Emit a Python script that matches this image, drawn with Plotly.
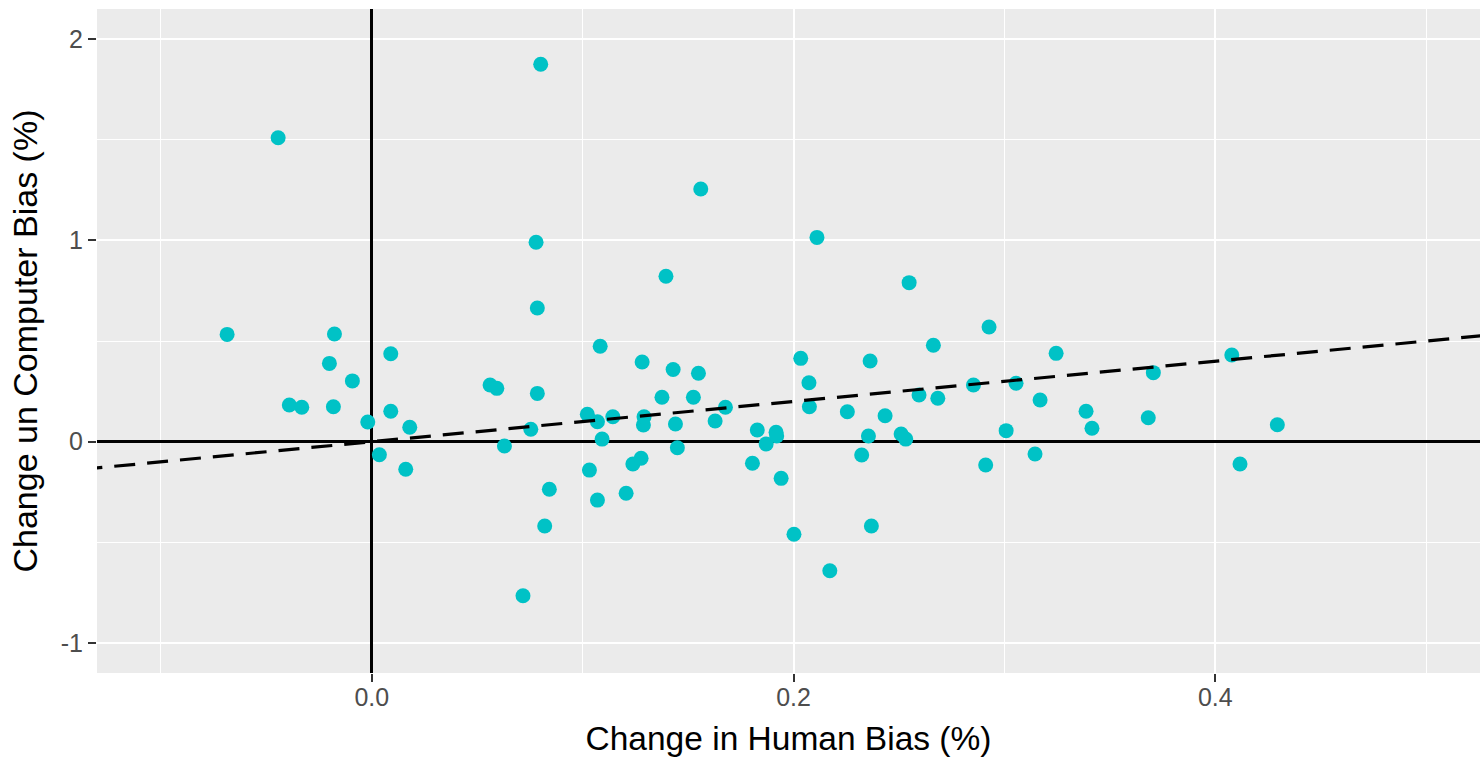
import plotly.graph_objects as go

# Data
human_bias = [
    -0.0686, -0.0444, -0.0391, -0.0332, -0.0201, -0.0182, -0.0177, -0.0092, -0.0019, 0.0036,
    0.0090, 0.0090, 0.0161, 0.0180, 0.0561, 0.0593, 0.0629, 0.0717, 0.0754, 0.0785,
    0.0785, 0.0779, 0.0801, 0.0820, 0.0842, 0.1022, 0.1032, 0.1070, 0.1083, 0.1070,
    0.1092, 0.1143, 0.1206, 0.1238, 0.1282, 0.1277, 0.1288, 0.1291, 0.1376, 0.1395,
    0.1429, 0.1440, 0.1449, 0.1525, 0.1549, 0.1560, 0.1628, 0.1677, 0.1805, 0.1828,
    0.1870, 0.1917, 0.1920, 0.1941, 0.2002, 0.2034, 0.2073, 0.2075, 0.2111, 0.2172,
    0.2255, 0.2323, 0.2355, 0.2363, 0.2369, 0.2434, 0.2510, 0.2532, 0.2548, 0.2595,
    0.2663, 0.2684, 0.2853, 0.2911, 0.2927, 0.3008, 0.3055, 0.3145, 0.3169, 0.3245,
    0.3387, 0.3415, 0.3682, 0.3706, 0.4078, 0.4117, 0.4294,
]
computer_bias = [
    0.533, 1.510, 0.182, 0.171, 0.389, 0.174, 0.535, 0.302, 0.098, -0.065,
    0.437, 0.151, -0.137, 0.072, 0.282, 0.265, -0.021, -0.765, 0.062, 0.240,
    0.664, 0.991, 1.875, -0.419, -0.236, 0.136, -0.141, -0.290, 0.474, 0.099,
    0.013, 0.124, -0.256, -0.111, 0.396, -0.082, 0.083, 0.124, 0.221, 0.822,
    0.359, 0.088, -0.030, 0.221, 0.340, 1.255, 0.103, 0.171, -0.107, 0.058,
    -0.011, 0.047, 0.028, -0.182, -0.460, 0.414, 0.293, 0.174, 1.015, -0.641,
    0.149, -0.066, 0.028, 0.401, -0.419, 0.129, 0.038, 0.013, 0.790, 0.232,
    0.479, 0.216, 0.282, -0.116, 0.570, 0.055, 0.290, -0.061, 0.207, 0.439,
    0.151, 0.067, 0.119, 0.343, 0.431, -0.111, 0.084,
]

# Dashed reference line (identity line y = x)
ref_line_x = [-0.2, 0.6]
ref_line_y = [-0.2, 0.6]

x_tickvals = [0.0, 0.2, 0.4]
x_ticktext = ["0.0", "0.2", "0.4"]
y_tickvals = [-1, 0, 1, 2]
y_ticktext = ["-1", "0", "1", "2"]

x_title = "Change in Human Bias (%)"
y_title = "Change un Computer Bias (%)"

FONT = "Liberation Sans, Arial, Helvetica, sans-serif"

fig = go.Figure()
fig.add_trace(go.Scatter(
    x=human_bias, y=computer_bias, mode="markers",
    marker=dict(color="#00C2C6", size=15, line=dict(width=0)),
    showlegend=False, hoverinfo="x+y",
))
fig.add_trace(go.Scatter(
    x=ref_line_x, y=ref_line_y, mode="lines",
    line=dict(color="black", width=3.2, dash="21px,12px"),
    showlegend=False, hoverinfo="skip",
))

axis_common = dict(
    showgrid=True, gridcolor="white", gridwidth=2.4,
    zeroline=True, zerolinecolor="black", zerolinewidth=2.8,
    ticks="outside", ticklen=8, tickwidth=2.2, tickcolor="#333333",
    tickfont=dict(family=FONT, size=25, color="#4D4D4D"),
    showline=False,
)

fig.update_xaxes(
    range=[-0.1303, 0.5255],
    tickvals=x_tickvals, ticktext=x_ticktext,
    minor=dict(dtick=0.1, tick0=0.1, showgrid=True, gridcolor="white", gridwidth=1.3, ticks=""),
    title=dict(text=x_title, font=dict(family=FONT, size=33.5, color="black"), standoff=17),
    ticklabelstandoff=-6,
    **axis_common,
)
fig.update_yaxes(
    range=[-1.149, 2.1495],
    tickvals=y_tickvals, ticktext=y_ticktext,
    minor=dict(dtick=0.5, tick0=0.5, showgrid=True, gridcolor="white", gridwidth=1.3, ticks=""),
    title=dict(text=y_title, font=dict(family=FONT, size=34, color="black"), standoff=12),
    ticklabelstandoff=0,
    **axis_common,
)

fig.update_layout(
    width=1480, height=757,
    margin=dict(l=97, r=0, t=9, b=84, autoexpand=False),
    plot_bgcolor="#EBEBEB", paper_bgcolor="white",
    font=dict(family=FONT),
)

# Remove the browser's default 8px body margin so the figure fills the window exactly.
fig.write_html(
    "out.html",
    config={"displayModeBar": False},
    post_script="document.body.style.margin='0';document.body.style.overflow='hidden';",
)
